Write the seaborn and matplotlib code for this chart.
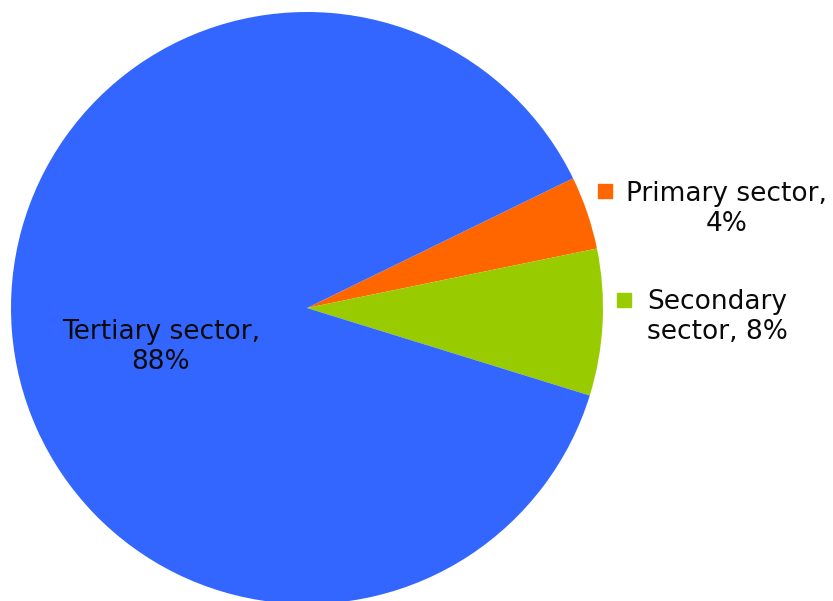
import matplotlib
matplotlib.use("Agg")
import matplotlib.pyplot as plt
import seaborn as sns

# Employment share by economic sector
sectors = ["Primary sector", "Secondary sector", "Tertiary sector"]
shares = [4, 8, 88]
colors = ["#FF6600", "#99CC00", "#3366FF"]

sns.set_theme(style="white")
plt.rcParams["font.family"] = ["DejaVu Sans"]

W, H = 833, 601
fig = plt.figure(figsize=(W / 100, H / 100), dpi=100)
ax = fig.add_axes([0, 0, 1, 1])

# pie centre and radius in pixels
cx, cy, r = 307, 308, 296

def to_data(px, py):
    return (px - cx) / r, (cy - py) / r

ax.pie(shares, colors=colors, startangle=26.0, counterclock=False,
       radius=1.0, center=(0, 0),
       wedgeprops=dict(linewidth=0, antialiased=True))

ax.set_xlim(-cx / r, (W - cx) / r)
ax.set_ylim((cy - H) / r, cy / r)
ax.set_aspect("auto")
ax.axis("off")

fs = 19
txt_kw = dict(ha="center", va="center", fontsize=fs, color="#0a0a0a",
              linespacing=1.18)

# inside label for the large slice
x, y = to_data(161, 347)
ax.text(x, y, f"Tertiary sector,\n{shares[2]}%", **txt_kw)

# outside labels with colour keys
x, y = to_data(727, 209)
ax.text(x, y, f"Primary sector,\n{shares[0]}%", **txt_kw)
x, y = to_data(605, 191)
ax.plot([x], [y], marker="s", markersize=10, color=colors[0], linestyle="none")

x, y = to_data(717, 317)
ax.text(x, y, f"Secondary\nsector, {shares[1]}%", **txt_kw)
x, y = to_data(624, 300)
ax.plot([x], [y], marker="s", markersize=10, color=colors[1], linestyle="none")

fig.savefig("out.png", dpi=100, facecolor="white")
